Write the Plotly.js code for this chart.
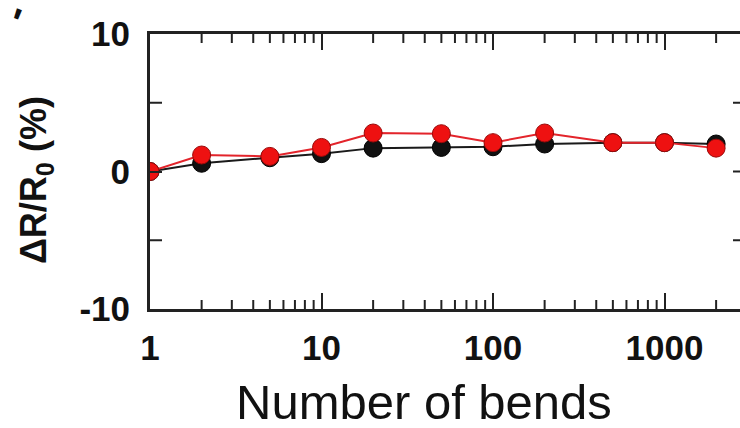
<!DOCTYPE html>
<html>
<head>
<meta charset="utf-8">
<script src="https://cdn.plot.ly/plotly-3.0.1.min.js"></script>
<style>
html,body{margin:0;padding:0;background:#fff;width:740px;height:428px;overflow:hidden;}
#chart{width:800px;height:428px;}
</style>
</head>
<body>
<div id="chart"></div>
<script>
// Data
const bends = [1, 2, 5, 10, 20, 50, 100, 200, 500, 1000, 2000];
const blackSeries = [0.0, 0.6, 1.0, 1.3, 1.7, 1.75, 1.8, 2.0, 2.1, 2.1, 2.0];
const redSeries   = [0.0, 1.2, 1.1, 1.75, 2.8, 2.75, 2.1, 2.8, 2.1, 2.1, 1.7];
const xTickVals = [1, 10, 100, 1000];
const xTickText = ['1', '10', '100', '1000'];
const xMinorDigits = [2, 3, 4, 5, 6, 7, 8, 9];
const xDecades = [1, 10, 100, 1000];
const yTickVals = [-10, 0, 10];
const yTickText = ['-10', '0', '10'];
const yLeftMinor = [-5, 5];
const yRightTicks = [-5, 0, 5];

const W = 800, H = 428;
const M = {l: 150, r: 55, t: 34, b: 119};
const PW = W - M.l - M.r, PH = H - M.t - M.b;
const xRange = [0, 3.4694];
const yRange = [-10, 10];
const font = 'Liberation Sans, Arial, sans-serif';
const axColor = '#222';

const traces = [
  {
    x: bends, y: blackSeries, type: 'scatter', mode: 'lines+markers',
    line: {color: '#1a1a1a', width: 2},
    marker: {color: '#111111', size: 18, line: {color: '#000000', width: 1}},
    hoverinfo: 'skip'
  },
  {
    x: bends, y: redSeries, type: 'scatter', mode: 'lines+markers',
    line: {color: '#e3242b', width: 2},
    marker: {color: '#ee1111', size: 18, line: {color: '#9a0a0a', width: 1}},
    hoverinfo: 'skip'
  }
];

// tick-mark shapes (minor x ticks top & bottom, extra y ticks)
const shapes = [];
const minorLen = 9 / PH;
xDecades.forEach(d => xMinorDigits.forEach(m => {
  const v = d * m;
  if (Math.log10(v) >= xRange[1]) return;
  [[0, minorLen], [1 - minorLen, 1]].forEach(([a, b]) => shapes.push({
    type: 'line', xref: 'x', yref: 'paper', x0: v, x1: v, y0: a, y1: b,
    line: {color: axColor, width: 2}, layer: 'above'
  }));
}));
const yTickLen = 12 / PW;
yLeftMinor.forEach(v => shapes.push({
  type: 'line', xref: 'paper', yref: 'y', x0: 0, x1: yTickLen, y0: v, y1: v,
  line: {color: axColor, width: 2}, layer: 'above'
}));
yRightTicks.forEach(v => shapes.push({
  type: 'line', xref: 'paper', yref: 'y', x0: 1 - yTickLen, x1: 1, y0: v, y1: v,
  line: {color: axColor, width: 2}, layer: 'above'
}));

const layout = {
  width: W, height: H,
  margin: M,
  paper_bgcolor: '#fff', plot_bgcolor: '#fff',
  showlegend: false,
  xaxis: {
    type: 'log', range: xRange,
    showline: true, linecolor: axColor, linewidth: 3, mirror: 'ticks',
    ticks: 'inside', tickcolor: axColor, ticklen: 16, tickwidth: 2,
    showgrid: false, zeroline: false,
    tickmode: 'array', tickvals: xTickVals, ticktext: xTickText,
    ticklabelstandoff: 6,
    tickfont: {family: font, size: 35, color: '#111', weight: 'bold'}
  },
  yaxis: {
    range: yRange,
    showline: true, linecolor: axColor, linewidth: 3, mirror: false,
    ticks: 'inside', tickcolor: axColor, ticklen: 12, tickwidth: 2,
    showgrid: false, zeroline: false,
    tickmode: 'array', tickvals: yTickVals, ticktext: yTickText,
    ticklabelstandoff: 10,
    tickfont: {family: font, size: 35, color: '#111', weight: 'bold'}
  },
  shapes: shapes,
  annotations: [
    {
      text: 'Number of bends', xref: 'paper', yref: 'paper',
      x: (424 - M.l) / PW, y: (309 - 402) / PH, xanchor: 'center', yanchor: 'middle',
      showarrow: false,
      font: {family: font, size: 49, color: '#111'}
    },
    {
      text: '<b>ΔR/R<sub>0</sub> (%)</b>', xref: 'paper', yref: 'paper',
      x: (36 - M.l) / PW, y: (309 - 180) / PH, xanchor: 'center', yanchor: 'middle',
      textangle: -90, showarrow: false,
      font: {family: font, size: 36, color: '#111'}
    },
    {
      text: "<b>'</b>", xref: 'paper', yref: 'paper',
      x: (15 - M.l) / PW, y: (309 - 22) / PH, xanchor: 'center', yanchor: 'middle',
      textangle: 20, showarrow: false,
      font: {family: font, size: 40, color: '#111'}
    }
  ]
};

Plotly.newPlot('chart', traces, layout, {staticPlot: true, displayModeBar: false});
</script>
</body>
</html>
